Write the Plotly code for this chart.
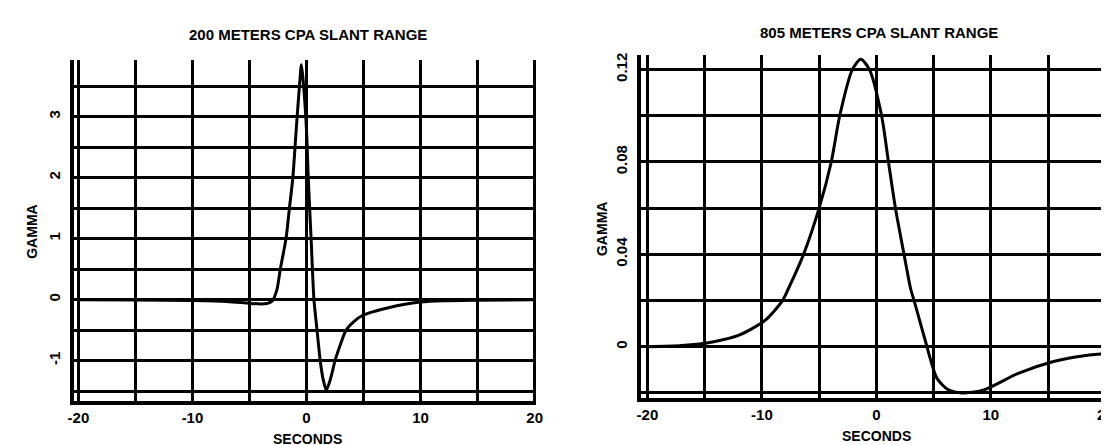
import plotly.graph_objects as go

# ---- data ----
sec_200 = [-20, -15, -10, -7, -5, -4, -3.4, -3.0, -2.6, -2.3, -1.8, -1.5, -1.2, -0.9,
           -0.6, -0.45, -0.3, 0.0, 0.15, 0.4, 0.65, 0.92, 1.2, 1.45, 1.73, 2.1, 2.5,
           3.0, 3.46, 4.2, 4.9, 6, 7, 8.5, 10, 12, 15, 20]
gamma_200 = [0, -0.005, -0.015, -0.03, -0.06, -0.07, -0.06, -0.02, 0.16, 0.5, 1.0, 1.5,
             2.0, 2.8, 3.55, 3.85, 3.6, 2.77, 2.0, 1.0, 0.0, -0.5, -1.0, -1.3, -1.48,
             -1.3, -1.0, -0.72, -0.5, -0.35, -0.26, -0.19, -0.14, -0.08, -0.04, -0.02,
             -0.01, 0]

sec_805 = [-20, -17, -14.2, -12, -9.7, -8.2, -7.7, -6.36, -5.0, -3.94, -3.2, -2.1, -1.36,
           -0.6, 0.46, 1.06, 1.67, 2.42, 3.0, 3.3, 4.2, 5.3, 6.3, 7.5, 9.4, 12.4, 15.4,
           18, 20]
gamma_805 = [0, 0.0005, 0.0022, 0.005, 0.0115, 0.02, 0.025, 0.04, 0.06, 0.08, 0.10, 0.12,
             0.1245, 0.12, 0.10, 0.08, 0.06, 0.04, 0.025, 0.02, 0.004, -0.0137, -0.0187,
             -0.020, -0.0187, -0.0115, -0.0065, -0.004, -0.003]

x_tickvals = [-20, -15, -10, -5, 0, 5, 10, 15, 20]
x_ticktext = ["-20", "", "-10", "", "0", "", "10", "", "20"]

y1_tickvals = [-1.5, -1, -0.5, 0, 0.5, 1, 1.5, 2, 2.5, 3, 3.5]
y1_ticktext = ["", "-1", "", "0", "", "1", "", "2", "", "3", ""]

y2_tickvals = [-0.02, 0, 0.02, 0.04, 0.06, 0.08, 0.10, 0.12]
y2_ticktext = ["", "0", "", "0.04", "", "0.08", "", "0.12"]

title_left = "200 METERS CPA SLANT RANGE"
title_right = "805 METERS CPA SLANT RANGE"
x_title = "SECONDS"
y_title = "GAMMA"

FONT = dict(family="Liberation Sans", size=15, color="black", weight="bold")
TFONT = dict(family="Liberation Sans", size=14, color="black", weight="bold")

fig = go.Figure()
fig.add_trace(go.Scatter(x=sec_200, y=gamma_200, mode="lines", xaxis="x", yaxis="y",
                         line=dict(color="black", width=3, shape="spline", smoothing=0.7),
                         showlegend=False))
fig.add_trace(go.Scatter(x=sec_805, y=gamma_805, mode="lines", xaxis="x2", yaxis="y2",
                         line=dict(color="black", width=3, shape="spline", smoothing=0.7),
                         showlegend=False))

axis_common = dict(showgrid=True, gridcolor="black", gridwidth=2.5, zeroline=False,
                   showline=True, linecolor="black", linewidth=3.5, ticks="",
                   tickfont=FONT, tickmode="array", fixedrange=True)

fig.update_layout(
    width=1109, height=445, autosize=False,
    margin=dict(l=0, r=0, t=0, b=0),
    paper_bgcolor="white", plot_bgcolor="white",
    xaxis=dict(axis_common, domain=[0.0546, 0.4761], range=[-20.4, 20.1],
               tickvals=x_tickvals, ticktext=x_ticktext, anchor="y", ticklabelstandoff=0),
    yaxis=dict(axis_common, domain=[0.1169, 0.8876], range=[-1.664, 3.93],
               tickvals=y1_tickvals, ticktext=y1_ticktext, tickangle=-90, anchor="x",
               ticklabelstandoff=4),
    xaxis2=dict(axis_common, domain=[0.5717, 0.9967], range=[-20.6, 20.1],
                tickvals=x_tickvals, ticktext=x_ticktext, anchor="y2", ticklabelstandoff=0),
    yaxis2=dict(axis_common, domain=[0.1236, 0.8989], range=[-0.0223, 0.1264],
                tickvals=y2_tickvals, ticktext=y2_ticktext, tickangle=-90, anchor="x2",
                ticklabelstandoff=4),
    annotations=[
        dict(text=title_left, x=0.268, y=1 - 25 / 445, xref="paper", yref="paper",
             showarrow=False, font=FONT, xanchor="center", yanchor="middle"),
        dict(text=title_right, x=0.789, y=1 - 23 / 445, xref="paper", yref="paper",
             showarrow=False, font=FONT, xanchor="center", yanchor="middle"),
        dict(text=x_title, x=297 / 1109, y=1 - 431 / 445, xref="paper", yref="paper",
             showarrow=False, font=TFONT, xanchor="center", yanchor="middle"),
        dict(text=x_title, x=873 / 1109, y=1 - 428 / 445, xref="paper", yref="paper",
             showarrow=False, font=TFONT, xanchor="center", yanchor="middle"),
        dict(text=y_title, x=18 / 1109, y=1 - 223 / 445, xref="paper", yref="paper",
             showarrow=False, font=TFONT, textangle=-90, xanchor="center", yanchor="middle"),
        dict(text=y_title, x=595 / 1109, y=1 - 220 / 445, xref="paper", yref="paper",
             showarrow=False, font=TFONT, textangle=-90, xanchor="center", yanchor="middle"),
    ],
)

fig.write_html("out.html")
